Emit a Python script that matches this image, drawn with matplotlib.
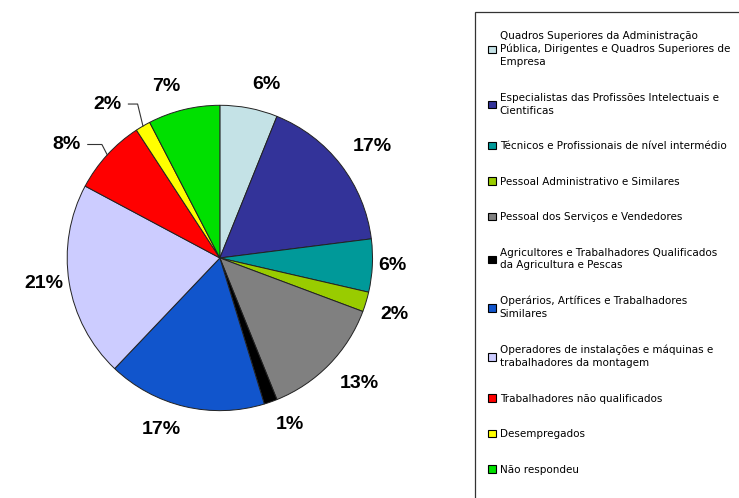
import matplotlib.pyplot as plt
import matplotlib.patches as mpatches
import numpy as np

categorias = [
    "Quadros Superiores da Administração\nPública, Dirigentes e Quadros Superiores de\nEmpresa",
    "Especialistas das Profissões Intelectuais e\nCientificas",
    "Técnicos e Profissionais de nível intermédio",
    "Pessoal Administrativo e Similares",
    "Pessoal dos Serviços e Vendedores",
    "Agricultores e Trabalhadores Qualificados\nda Agricultura e Pescas",
    "Operários, Artífices e Trabalhadores\nSimilares",
    "Operadores de instalações e máquinas e\ntrabalhadores da montagem",
    "Trabalhadores não qualificados",
    "Desempregados",
    "Não respondeu",
]
valores = [6.1, 16.9, 5.6, 2.1, 13.2, 1.4, 16.8, 20.7, 8.0, 1.6, 7.6]
rotulos = ["6%", "17%", "6%", "2%", "13%", "1%", "17%", "21%", "8%", "2%", "7%"]
cores = ["#C4E2E6", "#333399", "#009999", "#99CC00", "#808080", "#000000",
         "#1155CC", "#CCCCFF", "#FF0000", "#FFFF00", "#00E000"]
# fatias com linha de chamada
com_linha = [8, 9]

fig = plt.figure(figsize=(7.39, 4.98), dpi=100)
ax = fig.add_axes([0.0, 0.04, 0.595, 0.884])

wedges, _ = ax.pie(valores, colors=cores, startangle=90, counterclock=False,
                   wedgeprops=dict(edgecolor="#222222", linewidth=0.7))
ax.set_xlim(-1.44, 1.44)
ax.set_ylim(-1.44, 1.44)
ax.set_aspect("equal")

fonte = dict(fontsize=14, fontweight="bold", family="Liberation Sans")
for i, (w, txt) in enumerate(zip(wedges, rotulos)):
    ang = np.deg2rad((w.theta1 + w.theta2) / 2)
    x, y = np.cos(ang), np.sin(ang)
    if i in com_linha:
        a2 = ang + np.deg2rad(6)
        xt, yt = 1.25 * np.cos(a2), 1.25 * np.sin(a2)
        ax.text(xt, yt, txt, ha="center", va="center", **fonte)
        ax.plot([xt + 0.14, x - 0.035, x], [yt, yt, y], color="#333333", lw=0.8)
    else:
        ha = "left" if x > 0 else "right"
        if abs(y) < 0.2:
            va, d = "center", 1.04
        else:
            va, d = ("bottom" if y > 0 else "top"), 1.1
        ax.text(d * x, d * y, txt, ha=ha, va=va, **fonte)

# moldura da legenda (sem borda inferior/direita visível)
fig.patches.append(mpatches.Rectangle((475 / 739, -0.1), 0.5, 1.1 - 12 / 498,
                                      transform=fig.transFigure, facecolor="none",
                                      edgecolor="#333333", linewidth=0.9))

handles = [mpatches.Patch(facecolor=c, edgecolor="black", linewidth=0.8) for c in cores]
leg = fig.legend(handles, categorias, loc="upper left",
                 bbox_to_anchor=(488 / 739, 1 - 31 / 498),
                 prop=dict(family="DejaVu Sans", size=7.5),
                 frameon=False, labelspacing=2.45, handlelength=0.72,
                 handleheight=0.72, handletextpad=0.4, borderpad=0,
                 borderaxespad=0)
for t in leg.get_texts():
    t.set_linespacing(1.35)

fig.savefig("out.png", dpi=100)
